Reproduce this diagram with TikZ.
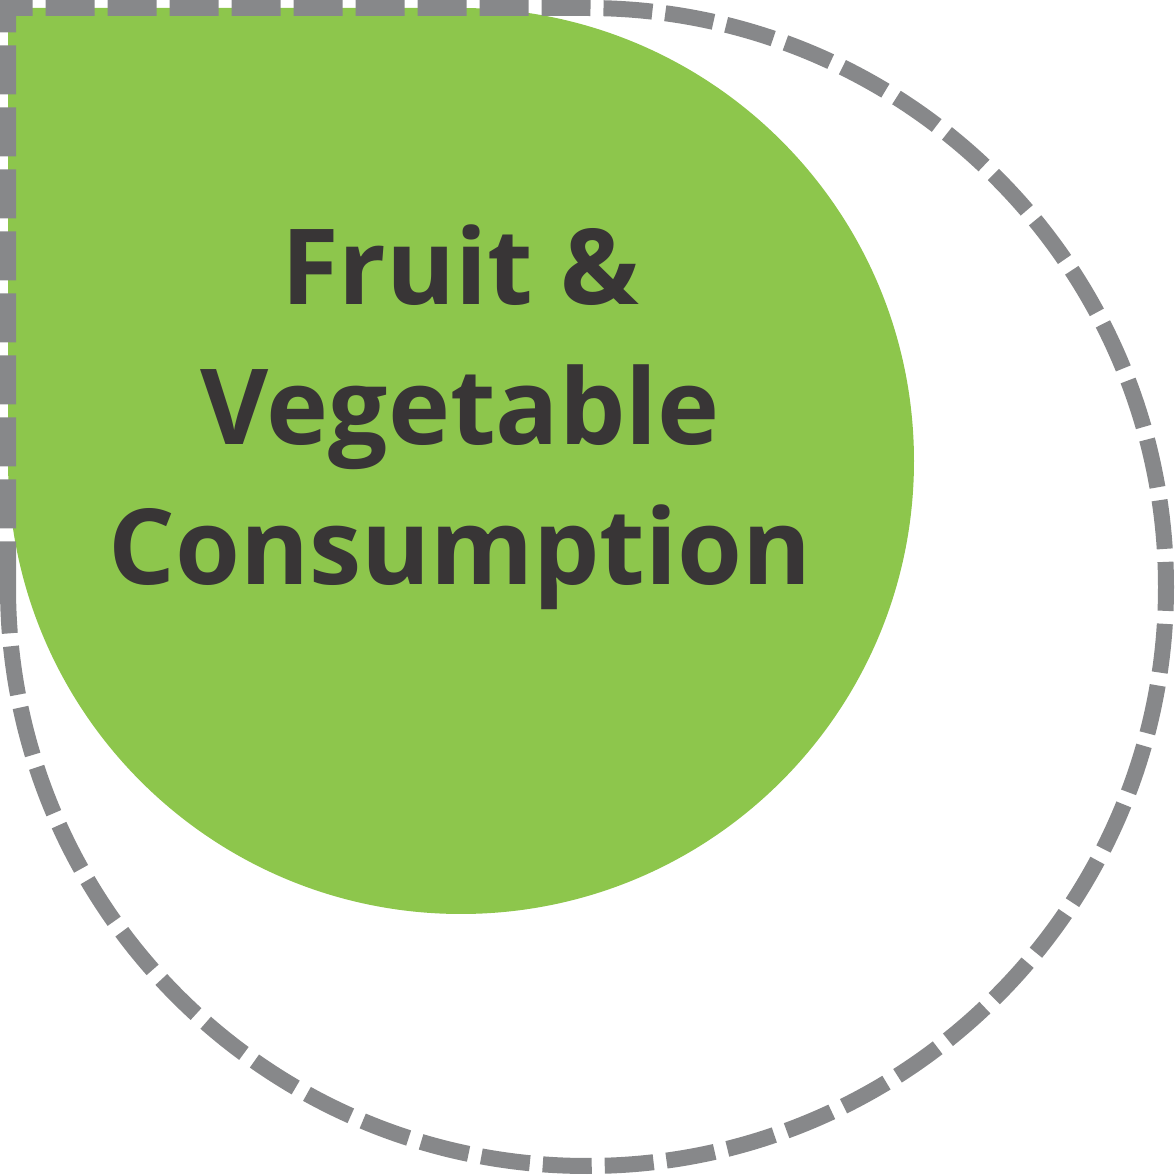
\documentclass[tikz,border=0pt]{standalone}
\usepackage{fontspec}
\setsansfont{Open Sans}
\usepackage{tikz}
\definecolor{mgreen}{RGB}{141, 198, 76}
\definecolor{mgrey}{RGB}{135, 136, 138}
\definecolor{mtext}{RGB}{56, 53, 54}
\tikzset{outline/.style = {mgrey, line width=8pt, dash pattern=on 24.5pt off 6.5pt, dash phase=1.75pt}}

\begin{document}
\begin{tikzpicture}[x=0.5pt, y=0.5pt]
    \useasboundingbox (0, 0) rectangle (1175, 1175);

    \fill [mgreen] (8, 1167) -- (461, 1167) arc [start angle=90, end angle=-180, radius=453] -- cycle;
    \draw [outline] (8, 588) -- (8, 1167) -- (587, 1167) arc [start angle=90, end angle=-180, radius=579] -- cycle;

    \node [mtext, align=center, font=\sffamily\bfseries\fontsize{52.5}{70}\selectfont] (title) at (460, 758)
          {Fruit \&\\Vegetable\\Consumption};
  \end{tikzpicture}
\end{document}
